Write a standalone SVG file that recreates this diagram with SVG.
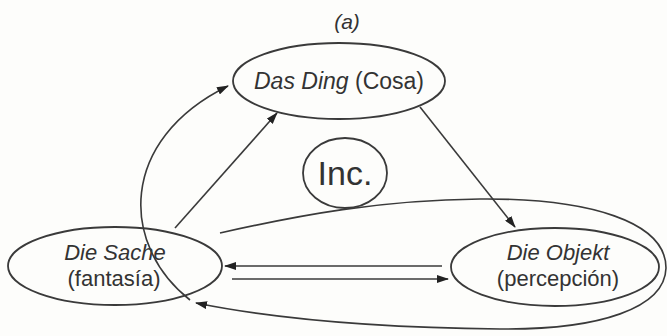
<svg xmlns="http://www.w3.org/2000/svg" width="667" height="336" viewBox="0 0 667 336">
<defs>
<style>
.node{fill:none;stroke:#3a3a3a;stroke-width:1.8}
.edge{fill:none;stroke:#3a3a3a;stroke-width:1.6}
.t{font-family:"Liberation Sans",Arial,sans-serif;font-size:23px;fill:#333;text-anchor:middle}
.s{font-size:22px}
.i{font-style:italic}
</style>
<marker id="ah" viewBox="0 0 12 8" refX="11" refY="4" markerWidth="12" markerHeight="8" markerUnits="userSpaceOnUse" orient="auto">
<path d="M0,0 L12,4 L0,8 Z" fill="#222"/>
</marker>
</defs>
<rect width="667" height="336" fill="#fdfdfb"/>
<text class="t i" x="347" y="29" style="font-size:21px">(a)</text>
<g id="das-ding">
<ellipse class="node" cx="339" cy="81" rx="106" ry="38"/>
<text class="t" x="339" y="89"><tspan class="i">Das Ding</tspan> (Cosa)</text>
</g>
<g id="inc">
<ellipse class="node" cx="345" cy="173" rx="42" ry="35"/>
<text class="t" x="345" y="185" style="font-size:34px">Inc.</text>
</g>
<g id="die-sache">
<ellipse class="node" cx="115" cy="266" rx="107" ry="39"/>
<text class="t s i" x="115" y="260">Die Sache</text>
<text class="t s" x="114" y="286">(fantasía)</text>
</g>
<g id="die-objekt">
<ellipse class="node" cx="555" cy="267" rx="104" ry="39"/>
<text class="t s i" x="558" y="260">Die Objekt</text>
<text class="t s" x="558" y="286">(percepción)</text>
</g>
<g id="connectors">
<line class="edge" x1="175" y1="228" x2="277" y2="113" marker-end="url(#ah)"/>
<line class="edge" x1="420" y1="107" x2="515" y2="227" marker-end="url(#ah)"/>
<line class="edge" x1="442" y1="266" x2="225" y2="266" marker-end="url(#ah)"/>
<line class="edge" x1="232" y1="279" x2="448" y2="279" marker-end="url(#ah)"/>
<path class="edge" d="M190,300 C120,245 118,140 228,86" marker-end="url(#ah)"/>
<path class="edge" d="M220,233 C300,215 380,200 480,199 C590,198 666,222 666,268 C665,308 600,330 500,329 C400,328 290,322 196,303" marker-end="url(#ah)"/>
</g>
</svg>
